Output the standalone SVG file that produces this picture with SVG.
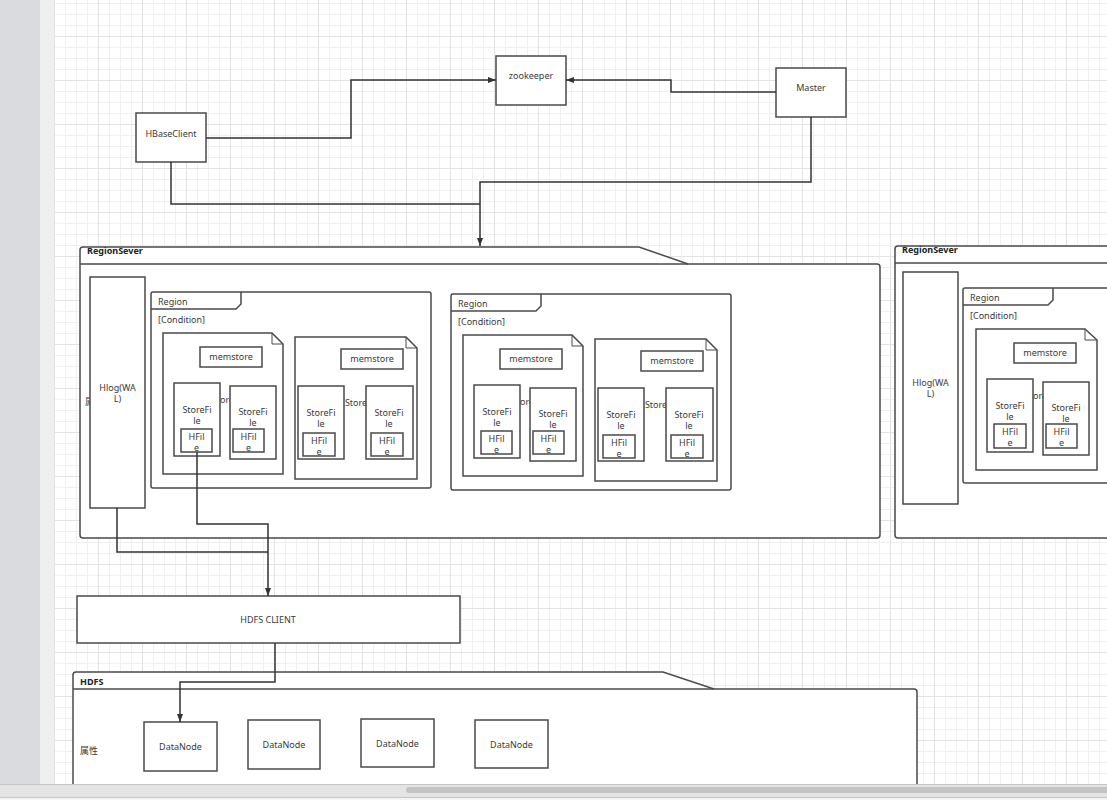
<svg xmlns="http://www.w3.org/2000/svg" width="1107" height="800" viewBox="0 0 1107 800">
<defs>
<pattern id="grid" x="54" y="-8" width="44" height="44" patternUnits="userSpaceOnUse">
<rect width="44" height="44" fill="#ffffff"/>
<path d="M11.5,0V44M22.5,0V44M33.5,0V44M0,11.5H44M0,22.5H44M0,33.5H44" stroke="#f0f0f0" stroke-width="1"/>
<path d="M0.5,0V44M0,0.5H44" stroke="#e3e3e3" stroke-width="1"/>
</pattern>
<marker id="arr" viewBox="0 0 8 6" refX="8" refY="3" markerWidth="8" markerHeight="6" markerUnits="userSpaceOnUse" orient="auto">
<path d="M0,0 L8,3 L0,6 Z" fill="#333"/>
</marker>
<style>
.box{fill:#fff;stroke:#4a4a4a;stroke-width:1.5}
.ln{fill:none;stroke:#4a4a4a;stroke-width:1.5}
.thin{fill:none;stroke:#4a4a4a;stroke-width:1}
.t{font-family:"Noto Sans","Noto Sans CJK SC",sans-serif;font-size:9px;fill:#3a3a3a;text-anchor:middle}
.tl{font-family:"Noto Sans","Noto Sans CJK SC",sans-serif;font-size:9px;fill:#3a3a3a}
.title{font-family:"Noto Sans","Noto Sans CJK SC",sans-serif;font-size:9px;font-weight:bold;fill:#222}
.con{fill:none;stroke:#333;stroke-width:1.5}
</style>
<g id="regionTpl">
<rect class="box" x="151" y="292" width="280" height="196" rx="2"/>
<path class="ln" d="M151,309 H236 L241,304 V292"/>
<text class="tl" x="158" y="305">Region</text>
<text class="tl" x="158" y="323">[Condition]</text>
<path class="box" d="M163,333 H272 L283,344 V474 H163 Z"/>
<path class="thin" d="M272,333 V344 H283"/>
<text class="t" x="223" y="403">Store</text>
<rect class="box" x="200" y="347" width="62" height="20"/>
<text class="t" x="231" y="360">memstore</text>
<rect class="box" x="174" y="383" width="46" height="73"/>
<text class="t" x="197" y="413">StoreFi</text>
<text class="t" x="197" y="424">le</text>
<rect class="box" x="181" y="429" width="31" height="23"/>
<text class="t" x="196.5" y="440">HFil</text>
<text class="t" x="196.5" y="451">e</text>
<rect class="box" x="230" y="386" width="46" height="73"/>
<text class="t" x="253" y="415">StoreFi</text>
<text class="t" x="253" y="426">le</text>
<rect class="box" x="233" y="429" width="31" height="23"/>
<text class="t" x="248.5" y="440">HFil</text>
<text class="t" x="248.5" y="451">e</text>
<path class="box" d="M295,337 H406 L417,348 V479 H295 Z"/>
<path class="thin" d="M406,337 V348 H417"/>
<text class="t" x="356" y="406">Store</text>
<rect class="box" x="341" y="349" width="62" height="20"/>
<text class="t" x="372" y="362">memstore</text>
<rect class="box" x="298" y="386" width="46" height="73"/>
<text class="t" x="321" y="416">StoreFi</text>
<text class="t" x="321" y="427">le</text>
<rect class="box" x="303" y="433" width="32" height="23"/>
<text class="t" x="319" y="444">HFil</text>
<text class="t" x="319" y="455">e</text>
<rect class="box" x="366" y="386" width="47" height="73"/>
<text class="t" x="389" y="416">StoreFi</text>
<text class="t" x="389" y="427">le</text>
<rect class="box" x="371" y="433" width="32" height="23"/>
<text class="t" x="387" y="444">HFil</text>
<text class="t" x="387" y="455">e</text>
</g>
</defs>

<rect x="0" y="0" width="1107" height="800" fill="url(#grid)"/>
<rect x="0" y="0" width="40" height="800" fill="#dadbde"/>
<rect x="40" y="0" width="14" height="800" fill="#efefef"/>

<g id="zookeeper">
<rect class="box" x="496" y="56" width="70" height="49"/>
<text class="t" x="531" y="79">zookeeper</text>
</g>
<g id="master">
<rect class="box" x="776" y="68" width="70" height="49"/>
<text class="t" x="811" y="91">Master</text>
</g>
<g id="hbaseclient">
<rect class="box" x="136" y="113" width="70" height="49"/>
<text class="t" x="171" y="137">HBaseClient</text>
</g>

<g id="regionsever1">
<path class="box" d="M80,535 V250 Q80,247 83,247 H639 L688,264 H877 Q880,264 880,267 V535 Q880,538 877,538 H83 Q80,538 80,535 Z"/>
<path class="ln" d="M80,264 H688"/>
<text class="title" x="87" y="254">RegionSever</text>
<text class="tl" x="85" y="405">属性</text>
<g id="hlog1">
<rect class="box" x="90" y="277" width="55" height="231"/>
<text class="t" x="117.5" y="391">Hlog(WA</text>
<text class="t" x="117.5" y="402">L)</text>
</g>
<g id="region1"><use href="#regionTpl"/></g>
<g id="region2" transform="translate(300,2)"><use href="#regionTpl"/></g>
</g>

<g id="regionsever2">
<path class="box" d="M895,535 V249 Q895,246 898,246 H1110 V538 H898 Q895,538 895,535 Z"/>
<path class="ln" d="M895,263 H1110"/>
<text class="title" x="902" y="253">RegionSever</text>
<g id="hlog2">
<rect class="box" x="903" y="272" width="55" height="232"/>
<text class="t" x="930.5" y="386">Hlog(WA</text>
<text class="t" x="930.5" y="397">L)</text>
</g>
<g id="region3" transform="translate(812,-4)">
<rect class="box" x="151" y="292" width="320" height="195" rx="2"/>
<path class="ln" d="M151,309 H236 L241,304 V292"/>
<text class="tl" x="158" y="305">Region</text>
<text class="tl" x="158" y="323">[Condition]</text>
<path class="box" d="M164,333 H273 L285,344 V474 H164 Z"/>
<path class="thin" d="M273,333 V344 H285"/>
<text class="t" x="224" y="403">Store</text>
<rect class="box" x="202" y="347" width="62" height="20"/>
<text class="t" x="233" y="360">memstore</text>
<rect class="box" x="175" y="383" width="46" height="73"/>
<text class="t" x="198" y="413">StoreFi</text>
<text class="t" x="198" y="424">le</text>
<rect class="box" x="182" y="428" width="32" height="24"/>
<text class="t" x="198" y="439">HFil</text>
<text class="t" x="198" y="450">e</text>
<rect class="box" x="231" y="386" width="46" height="73"/>
<text class="t" x="254" y="415">StoreFi</text>
<text class="t" x="254" y="426">le</text>
<rect class="box" x="234" y="428" width="31" height="24"/>
<text class="t" x="249.5" y="439">HFil</text>
<text class="t" x="249.5" y="450">e</text>
</g>
</g>

<g id="hdfsclient">
<rect class="box" x="77" y="596" width="383" height="47"/>
<text class="t" x="268" y="623">HDFS CLIENT</text>
</g>

<g id="hdfs">
<path class="box" d="M73,800 V675 Q73,672 76,672 H663 L714,689 H914 Q917,689 917,692 V800 Z"/>
<path class="ln" d="M73,689 H714"/>
<text class="title" x="80" y="685">HDFS</text>
<text class="tl" x="80" y="754">属性</text>
<g id="datanode1"><rect class="box" x="144" y="722" width="73" height="49"/><text class="t" x="180.5" y="750">DataNode</text></g>
<g id="datanode2"><rect class="box" x="248" y="720" width="72" height="49"/><text class="t" x="284" y="748">DataNode</text></g>
<g id="datanode3"><rect class="box" x="361" y="719" width="73" height="48"/><text class="t" x="397.5" y="747">DataNode</text></g>
<g id="datanode4"><rect class="box" x="475" y="720" width="73" height="48"/><text class="t" x="511.5" y="748">DataNode</text></g>
</g>

<g id="connectors">
<path class="con" d="M206,138 H351 V80 H496" marker-end="url(#arr)"/>
<path class="con" d="M776,92 H671 V80 H566" marker-end="url(#arr)"/>
<path class="con" d="M811,117 V182 H480 V246" marker-end="url(#arr)"/>
<path class="con" d="M171,162 V204 H480"/>
<path class="con" d="M197,452 V524 H268 V596" marker-end="url(#arr)"/>
<path class="con" d="M117,508 V552 H268"/>
<path class="con" d="M275,643 V682 H180 V722" marker-end="url(#arr)"/>
</g>

<rect x="0" y="784" width="1107" height="13" fill="#e4e4e4"/>
<path d="M0,784.5 H1107 M0,797.5 H1107" stroke="#c6c6c6" stroke-width="1"/>
<rect x="0" y="798" width="1107" height="2" fill="#f4f4f4"/>
<rect x="406" y="787" width="710" height="6" rx="3" fill="#c4c4c4"/>
</svg>
